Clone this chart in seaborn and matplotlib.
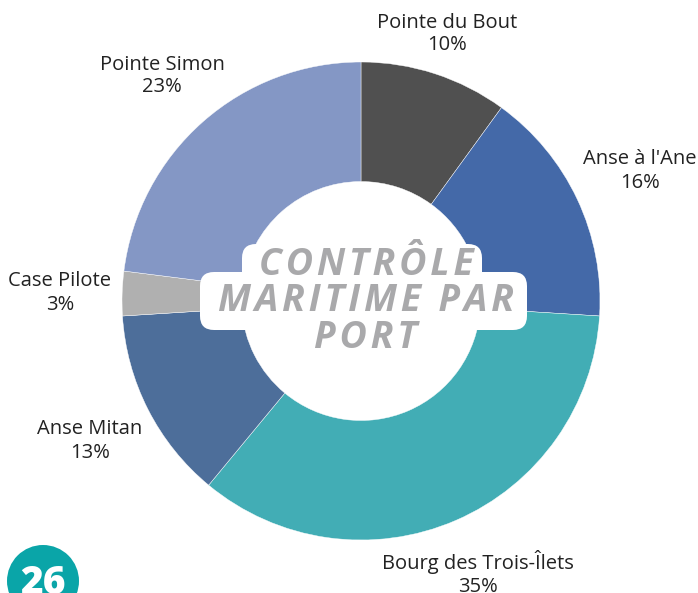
import matplotlib
matplotlib.use("Agg")
import matplotlib.pyplot as plt
import seaborn as sns
from matplotlib.patches import FancyBboxPatch, Circle

sns.set_theme(style="white")
plt.rcParams['font.family'] = ['Open Sans', 'DejaVu Sans']

ports = ["Pointe du Bout", "Anse à l'Ane", "Bourg des Trois-Îlets", "Anse Mitan", "Case Pilote", "Pointe Simon"]
shares = [10, 16, 35, 13, 3, 23]
colors = ["#505050", "#4469a8", "#42adb5", "#4d6e9a", "#b0b0b0", "#8497c5"]
label_pos = [(447, 34), (640, 171), (478, 573), (90, 441), (60, 293), (162, 76)]

W, H = 698, 593
fig = plt.figure(figsize=(W / 100, H / 100), dpi=100)
ax = fig.add_axes([0, 0, 1, 1])

cx, cy, R = 361, H - 301, 239
ax.pie(shares, colors=colors, startangle=90, counterclock=False,
       center=(cx, cy), radius=R, frame=True,
       wedgeprops=dict(width=R * 0.5, edgecolor="white", linewidth=0.3))
ax.set_xlim(0, W)
ax.set_ylim(0, H)
ax.set_aspect("equal")
ax.axis("off")

for name, v, (x, y) in zip(ports, shares, label_pos):
    ax.text(x, H - y, f"{name}\n{v}%", ha="center", va="center",
            fontsize=14.5, color="#222222", linespacing=1.2)

# white rounded backgrounds behind title
ax.add_patch(FancyBboxPatch((242, H - 292), 240, 48,
                            boxstyle="round,pad=0,rounding_size=14",
                            fc="white", ec="none", zorder=3))
ax.add_patch(FancyBboxPatch((200, H - 330), 327, 58,
                            boxstyle="round,pad=0,rounding_size=14",
                            fc="white", ec="none", zorder=3))

title_lines = ["C\u200aO\u200aN\u200aT\u200aR\u200aÔ\u200aL\u200aE",
               "M\u200aA\u200aR\u200aI\u200aT\u200aI\u200aM\u200aE\u2009 P\u200aA\u200aR",
               "P\u200aO\u200aR\u200aT"]
title_y = [265, 301, 338]
for t, y in zip(title_lines, title_y):
    ax.text(cx + 5, H - y, t, ha="center", va="center", fontsize=27,
            fontweight="bold", fontstyle="italic", color="#a9a9ab", zorder=4)

# badge
ax.add_patch(Circle((43, H - 581), 36, fc="#0aa5a8", ec="none", zorder=5))
ax.text(43, H - 584, "26", ha="center", va="center", fontsize=28,
        fontweight="heavy", color="white", zorder=6)

fig.savefig("out.png", dpi=100)
